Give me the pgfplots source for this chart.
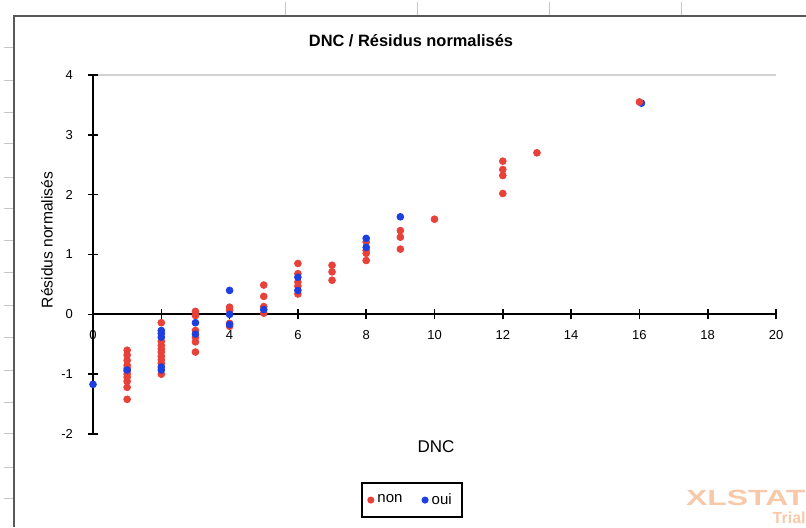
\documentclass[border=0pt]{standalone}
\usepackage{pgfplots}
\pgfplotsset{compat=1.18}
\usepackage{fontspec}
\setmainfont{Liberation Sans}
\definecolor{nonred}{HTML}{E8413A}
\definecolor{ouiblue}{HTML}{1E3FE0}
\definecolor{xlorange}{HTML}{F7C9A9}

\begin{document}
\begin{tikzpicture}
\path[use as bounding box] (0,0) rectangle (403pt,-263.5pt);
% cadre de la feuille (coordonnees en pixels)
\begin{scope}[x=0.5pt,y=-0.5pt]
  \foreach \yy in {47,80,112,143,177,208,240,272,305,337,370,402,433,467,498}
    \draw[gray!45,line width=0.5pt] (4,\yy) -- (14,\yy);
  \foreach \xx in {285,417,549,681}
    \draw[gray!45,line width=0.5pt] (\xx,2) -- (\xx,16);
  \draw[gray!70!black,line width=1pt] (14,527) -- (14,16) -- (806,16);
  \draw[gray!35,line width=0.8pt] (93,75) -- (776,75);
\end{scope}

\begin{axis}[
    scale only axis,
    width=341.5pt, height=179.5pt,
    at={(46.5pt,-217pt)}, anchor=south west,
    xmin=0, xmax=20, ymin=-2, ymax=4,
    axis lines=middle,
    axis line style={line width=0.9pt,-},
    xtick={0,2,...,20}, ytick={-2,-1,0,1,2,3,4},
    xticklabels={0,2,4,6,8,10,12,14,16,18,20},
    yticklabels={-2,-1,0,1,2,3,4},
    hide obscured x ticks=false, hide obscured y ticks=false,
    tick align=center, major tick length=5pt,
    tick style={line width=0.8pt,black},
    ticklabel style={font=\fontsize{6.5}{7}\selectfont},
    xticklabel style={yshift=-2pt},
    yticklabel style={xshift=-4pt},
    clip=false,
    legend columns=2,
    legend image post style={mark size=1.3pt},
    legend style={at={(rel axis cs:0.467,-0.184)}, anchor=center,
        draw=black, line width=0.9pt, font=\fontsize{7.5}{9}\selectfont,
        inner sep=3pt,
        /tikz/every even column/.append style={column sep=8pt}},
]
\addplot[only marks, mark=*, mark size=1.7pt, color=nonred] coordinates {
 (1,-0.60)(1,-0.68)(1,-0.77)(1,-0.85)(1,-0.90)(1,-0.95)(1,-1.00)(1,-1.05)(1,-1.12)(1,-1.22)(1,-1.42)
 (2,-0.14)(2,-0.45)(2,-0.52)(2,-0.58)(2,-0.63)(2,-0.70)(2,-0.76)(2,-0.82)(2,-1.00)
 (3,0.05)(3,-0.02)(3,-0.27)(3,-0.38)(3,-0.46)(3,-0.63)
 (4,0.12)(4,0.07)(4,-0.15)(4,-0.20)
 (5,0.49)(5,0.30)(5,0.13)(5,0.02)
 (6,0.85)(6,0.68)(6,0.54)(6,0.47)(6,0.34)
 (7,0.82)(7,0.71)(7,0.57)
 (8,1.21)(8,1.07)(8,1.02)(8,0.90)
 (9,1.40)(9,1.29)(9,1.09)
 (10,1.59)
 (12,2.56)(12,2.42)(12,2.32)(12,2.02)
 (13,2.70)
};
\addlegendentry{non}
\addplot[only marks, mark=*, mark size=1.7pt, color=ouiblue] coordinates {
 (0,-1.17)
 (1,-0.93)
 (2,-0.27)(2,-0.32)(2,-0.38)(2,-0.88)(2,-0.93)
 (3,-0.14)(3,-0.33)
 (4,0.40)(4,0.00)(4,-0.17)
 (5,0.08)
 (6,0.62)(6,0.40)
 (8,1.27)(8,1.12)
 (9,1.63)
 (16.06,3.53)
};
\addlegendentry{oui}
\addplot[only marks, mark=*, mark size=1.7pt, color=nonred, forget plot] coordinates {(16,3.55)};
\end{axis}

\begin{scope}[x=0.5pt,y=-0.5pt]
  \node[font=\fontsize{8.2}{10}\selectfont\bfseries] at (411,41) {DNC / Résidus normalisés};
  \node[font=\fontsize{8.5}{10}\selectfont] at (436,447) {DNC};
  \node[font=\fontsize{7.8}{9}\selectfont, rotate=90] at (47,240) {Résidus normalisés};
  \node[anchor=east, inner sep=0, text=xlorange, font=\fontsize{11}{12}\selectfont\bfseries, xscale=1.45] at (806,498) {XLSTAT};
  \node[anchor=east, inner sep=0, text=xlorange, font=\fontsize{8}{9}\selectfont\bfseries] at (806,518) {Trial};
\end{scope}
\end{tikzpicture}
\end{document}
